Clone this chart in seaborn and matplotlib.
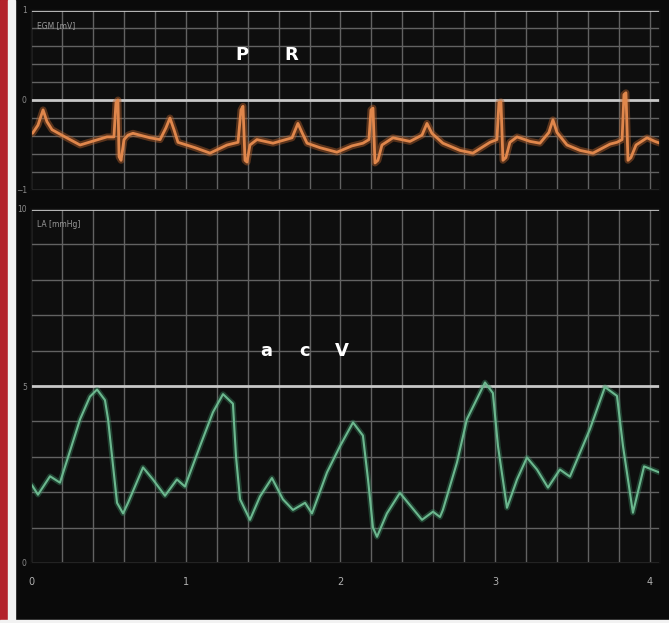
import numpy as np
import pandas as pd
import matplotlib
matplotlib.use("Agg")
import matplotlib.pyplot as plt
from matplotlib.patches import Rectangle
import seaborn as sns

# EGM trace (s, mV)
egm_t = [0.01, 0.045, 0.078, 0.103, 0.136, 0.22, 0.317, 0.394, 0.491, 0.536,
         0.549, 0.562, 0.569, 0.582, 0.601, 0.627, 0.659, 0.769, 0.834, 0.872,
         0.898, 0.924, 0.950, 1.060, 1.157, 1.267, 1.338, 1.357, 1.370, 1.383,
         1.396, 1.415, 1.460, 1.564, 1.687, 1.725, 1.751, 1.784, 1.868, 1.977,
         2.074, 2.145, 2.184, 2.197, 2.210, 2.223, 2.242, 2.268, 2.339, 2.449,
         2.527, 2.559, 2.591, 2.662, 2.772, 2.856, 2.966, 3.011, 3.024, 3.037,
         3.050, 3.069, 3.095, 3.141, 3.225, 3.289, 3.347, 3.373, 3.399, 3.464,
         3.548, 3.632, 3.742, 3.787, 3.820, 3.832, 3.845, 3.858, 3.877, 3.910,
         3.981, 4.032, 4.065]
egm_mv = [-0.37, -0.28, -0.11, -0.24, -0.33, -0.41, -0.50, -0.46, -0.41, -0.41,
          -0.03, 0.00, -0.63, -0.67, -0.44, -0.39, -0.37, -0.42, -0.44, -0.31,
          -0.20, -0.33, -0.47, -0.53, -0.59, -0.50, -0.47, -0.11, -0.07, -0.67,
          -0.69, -0.50, -0.44, -0.48, -0.42, -0.26, -0.36, -0.48, -0.53, -0.58,
          -0.51, -0.48, -0.44, -0.11, -0.09, -0.70, -0.67, -0.50, -0.42, -0.46,
          -0.39, -0.26, -0.37, -0.48, -0.56, -0.59, -0.47, -0.44, -0.03, -0.02,
          -0.67, -0.64, -0.47, -0.41, -0.46, -0.48, -0.36, -0.22, -0.36, -0.50,
          -0.56, -0.59, -0.49, -0.47, -0.44, 0.06, 0.08, -0.67, -0.64, -0.50,
          -0.42, -0.46, -0.48]

# LA pressure trace (s, mmHg)
la_t = [0.006, 0.045, 0.123, 0.187, 0.233, 0.317, 0.381, 0.427, 0.478, 0.498,
        0.556, 0.595, 0.627, 0.724, 0.788, 0.866, 0.943, 0.995, 1.092, 1.176,
        1.241, 1.305, 1.325, 1.351, 1.415, 1.480, 1.557, 1.628, 1.693, 1.771,
        1.816, 1.913, 1.997, 2.081, 2.145, 2.178, 2.210, 2.236, 2.300, 2.384,
        2.527, 2.598, 2.643, 2.662, 2.753, 2.817, 2.934, 2.985, 3.018, 3.076,
        3.141, 3.205, 3.270, 3.341, 3.418, 3.483, 3.612, 3.709, 3.787, 3.826,
        3.890, 3.962, 4.065]
la_mmhg = [2.2, 1.93, 2.45, 2.27, 2.9, 4.06, 4.7, 4.9, 4.6, 4.06,
           1.7, 1.4, 1.7, 2.7, 2.36, 1.9, 2.36, 2.16, 3.3, 4.26,
           4.77, 4.5, 3.0, 1.8, 1.22, 1.88, 2.4, 1.8, 1.5, 1.7,
           1.4, 2.56, 3.3, 3.97, 3.6, 2.36, 1.0, 0.74, 1.4, 1.98,
           1.22, 1.45, 1.3, 1.5, 2.84, 4.06, 5.1, 4.8, 3.3, 1.56,
           2.36, 2.98, 2.64, 2.13, 2.64, 2.44, 3.78, 4.97, 4.72, 3.3,
           1.42, 2.73, 2.55]

egm_marks = ["P", "R"]
egm_mark_t = [1.36, 1.68]
la_marks = ["a", "c", "V"]
la_mark_t = [1.52, 1.77, 2.01]

egm = pd.DataFrame({"t": egm_t, "v": egm_mv})
la = pd.DataFrame({"t": la_t, "v": la_mmhg})

sns.set_theme(style="dark", rc={"axes.facecolor": "#0e0e0e",
                                "figure.facecolor": "#0a0a0a",
                                "axes.edgecolor": "#0e0e0e"})

fig = plt.figure(figsize=(6.69, 6.23), dpi=100)
W, H = 669, 623

def px_axes(x0, y0, x1, y1):
    return fig.add_axes([x0 / W, 1 - y1 / H, (x1 - x0) / W, (y1 - y0) / H])

ax1 = px_axes(31, 10, 660, 190)
ax2 = px_axes(31, 209, 660, 563)

grid_c = "#626262"
xmax = 4.065

for ax in (ax1, ax2):
    ax.set_xlim(0, xmax)
    ax.set_xticks(np.arange(0, 4.01, 1))
    ax.set_xticks(np.arange(0, xmax, 0.2), minor=True)
    ax.grid(True, which="both", axis="x", color=grid_c, lw=1.0)
    ax.grid(True, which="minor", axis="y", color=grid_c, lw=1.0)
    ax.tick_params(length=0, labelsize=5.5, labelcolor="#8a8a8a", pad=3)

# EGM panel
ax1.set_ylim(-1, 1)
ax1.set_yticks([-1, 0, 1])
ax1.set_yticks(np.arange(-1, 1.01, 0.2), minor=True)
for y in (-1, 0, 1):
    ax1.axhline(y, color="#c8c8c8", lw=2)
ax1.set_xticklabels([])
sns.lineplot(data=egm, x="t", y="v", ax=ax1, estimator=None, sort=False,
             color="#b8622c", lw=5, alpha=0.45)
sns.lineplot(data=egm, x="t", y="v", ax=ax1, estimator=None, sort=False,
             color="#e0874c", lw=2)
ax1.set_xlabel("")
ax1.set_ylabel("")
ax1.text(0.01, 0.9, "EGM [mV]", transform=ax1.transAxes, fontsize=5.5,
         color="#9a9a9a")
for m, t in zip(egm_marks, egm_mark_t):
    ax1.text(t, 0.5, m, color="white", fontsize=13, fontweight="bold",
             ha="center", va="center")

# LA panel
ax2.set_ylim(0, 10)
ax2.set_yticks([0, 5, 10])
ax2.set_yticks(np.arange(0, 10.1, 1), minor=True)
for y in (0, 5, 10):
    ax2.axhline(y, color="#c8c8c8", lw=2)
sns.lineplot(data=la, x="t", y="v", ax=ax2, estimator=None, sort=False,
             color="#3a8a62", lw=4, alpha=0.4)
sns.lineplot(data=la, x="t", y="v", ax=ax2, estimator=None, sort=False,
             color="#6cb88f", lw=1.5)
ax2.set_xlabel("")
ax2.set_ylabel("")
ax2.tick_params(axis="x", labelsize=7, labelcolor="#b0b0b0", pad=10)
ax2.text(0.01, 0.95, "LA [mmHg]", transform=ax2.transAxes, fontsize=5.5,
         color="#9a9a9a")
for m, t in zip(la_marks, la_mark_t):
    ax2.text(t, 6.0, m, color="white", fontsize=13, fontweight="bold",
             ha="center", va="center")

# monitor frame: red and white strips on the left, white edge at the bottom
fig.add_artist(Rectangle((0, 0), 8 / W, 1, transform=fig.transFigure,
                         color="#b3222b", zorder=0))
fig.add_artist(Rectangle((8 / W, 0), 7 / W, 1, transform=fig.transFigure,
                         color="#f2f2f2", zorder=0))
fig.add_artist(Rectangle((0, 0), 1, 3 / H, transform=fig.transFigure,
                         color="#f2f2f2", zorder=0))

fig.savefig("out.png", dpi=100, facecolor=fig.get_facecolor())
